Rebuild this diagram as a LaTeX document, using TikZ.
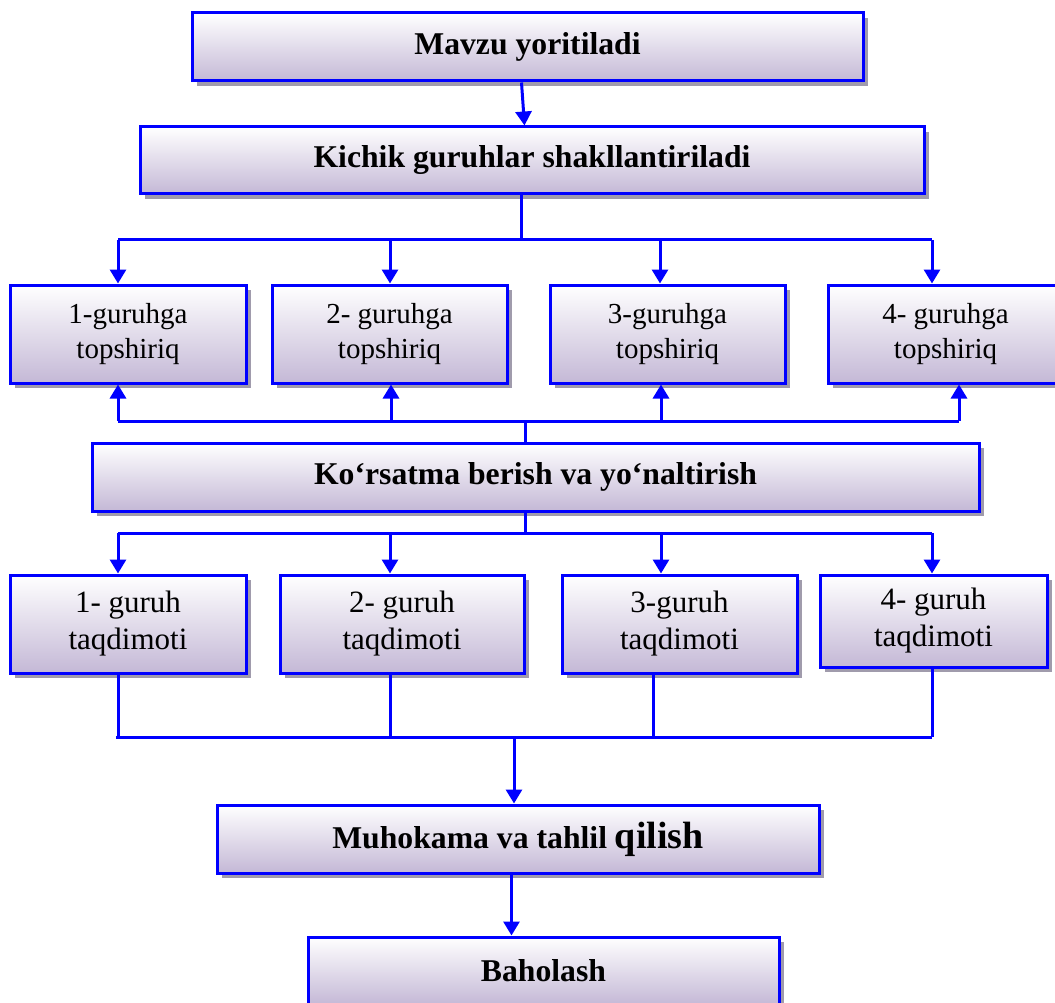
\documentclass[tikz,border=0pt]{standalone}
\usepackage{fontspec}
\setmainfont{Liberation Serif}
\usetikzlibrary{arrows.meta,shadows,calc}
\definecolor{bblue}{RGB}{0,0,255}
\definecolor{lav}{RGB}{196,184,214}
\definecolor{shad}{RGB}{160,155,172}
\tikzset{
 box/.style={draw=bblue, line width=3pt, top color=white, bottom color=lav,
   drop shadow={shadow xshift=4.5pt, shadow yshift=-5pt, fill=shad, opacity=1},
   inner sep=0pt, align=center, text=black},
 big/.style={font=\fontsize{31.7}{36}\selectfont\bfseries},
 grp/.style={font=\fontsize{29}{35.5}\selectfont},
 grpb/.style={font=\fontsize{31}{37}\selectfont},
 conn/.style={draw=bblue, line width=3pt},
 arr/.style={conn, -{Triangle[length=14pt,width=16pt]}},
}
\begin{document}
\begin{tikzpicture}[x=1pt,y=-1pt]
\useasboundingbox (0,0) rectangle (1055,1003);
% boxes
\node[box,big,minimum width=671pt,minimum height=68pt] (m1) at (527.5,47) {Mavzu yoritiladi};
\node[box,big,minimum width=784pt,minimum height=67pt] (m2) at (532,160.5) {Kichik guruhlar shakllantiriladi};
\node[box,grp,minimum width=236pt,minimum height=98pt] (t1) at (128,334) {1-guruhga\\topshiriq};
\node[box,grp,minimum width=235pt,minimum height=98pt] (t2) at (389.5,334) {2- guruhga\\topshiriq};
\node[box,grp,minimum width=235pt,minimum height=98pt] (t3) at (667.5,334) {3-guruhga\\topshiriq};
\node[box,grp,minimum width=235pt,minimum height=98pt] (t4) at (945.5,334) {4- guruhga\\topshiriq};
\node[box,big,minimum width=887pt,minimum height=68pt] (k) at (535.5,477) {Ko‘rsatma berish va yo‘naltirish};
\node[box,grpb,minimum width=236pt,minimum height=98pt] (g1) at (128,624) {1- guruh\\taqdimoti};
\node[box,grpb,minimum width=244pt,minimum height=98pt] (g2) at (402,624) {2- guruh\\taqdimoti};
\node[box,grpb,minimum width=235pt,minimum height=98pt] (g3) at (679.5,624) {3-guruh\\taqdimoti};
\node[box,grpb,minimum width=227pt,minimum height=92pt] (g4) at (933.5,621) {4- guruh\\taqdimoti};
\node[box,big,minimum width=602pt,minimum height=68pt] (mu) at (518,839) {Muhokama va tahlil {\fontsize{38}{40}\selectfont qilish}};
\node[box,big,minimum width=471pt,minimum height=68pt] (b) at (543.5,971) {Baholash};
% bus coordinates
\coordinate (s1) at (521,240);
\coordinate (s1L) at (118,240);
\coordinate (s1a) at (390,240);
\coordinate (s1b) at (660,240);
\coordinate (s1R) at (932,240);
\coordinate (u1) at (525,421);
\coordinate (u1L) at (118,421);
\coordinate (u1a) at (391,421);
\coordinate (u1b) at (661,421);
\coordinate (u1R) at (959,421);
\coordinate (s2) at (525,533);
\coordinate (s2L) at (118,533);
\coordinate (s2a) at (390,533);
\coordinate (s2b) at (661,533);
\coordinate (s2R) at (932,533);
\coordinate (j) at (514,737);
\coordinate (jL) at (116,737);
\coordinate (ja) at (390,737);
\coordinate (jb) at (653,737);
\coordinate (jR) at (932,737);
% connectors
\draw[arr] ($(m1.south west)+(331,0)$) -- ($(m2.north west)+(386,0)$);
\draw[conn] (m2.south -| s1) -- (s1);
\draw[conn] (s1L) -- (s1R);
\draw[arr] (s1L) -- (t1.north -| s1L);
\draw[arr] (s1a) -- (t2.north -| s1a);
\draw[arr] (s1b) -- (t3.north -| s1b);
\draw[arr] (s1R) -- (t4.north -| s1R);
\draw[conn] (u1L) -- (u1R);
\draw[arr] (u1L) -- (t1.south -| u1L);
\draw[arr] (u1a) -- (t2.south -| u1a);
\draw[arr] (u1b) -- (t3.south -| u1b);
\draw[arr] (u1R) -- (t4.south -| u1R);
\draw[conn] (u1) -- (k.north -| u1);
\draw[conn] (k.south -| s2) -- (s2);
\draw[conn] (s2L) -- (s2R);
\draw[arr] (s2L) -- (g1.north -| s2L);
\draw[arr] (s2a) -- (g2.north -| s2a);
\draw[arr] (s2b) -- (g3.north -| s2b);
\draw[arr] (s2R) -- (g4.north -| s2R);
\draw[conn] (g1.south -| s2L) -- (s2L |- jL);
\draw[conn] (g2.south -| ja) -- (ja);
\draw[conn] (g3.south -| jb) -- (jb);
\draw[conn] (g4.south -| jR) -- (jR);
\draw[conn] (jL) -- (jR);
\draw[arr] (j) -- (mu.north -| j);
\draw[arr] ($(mu.south west)+(296,0)$) -- ($(b.north west)+(205,0)$);
\end{tikzpicture}
\end{document}
